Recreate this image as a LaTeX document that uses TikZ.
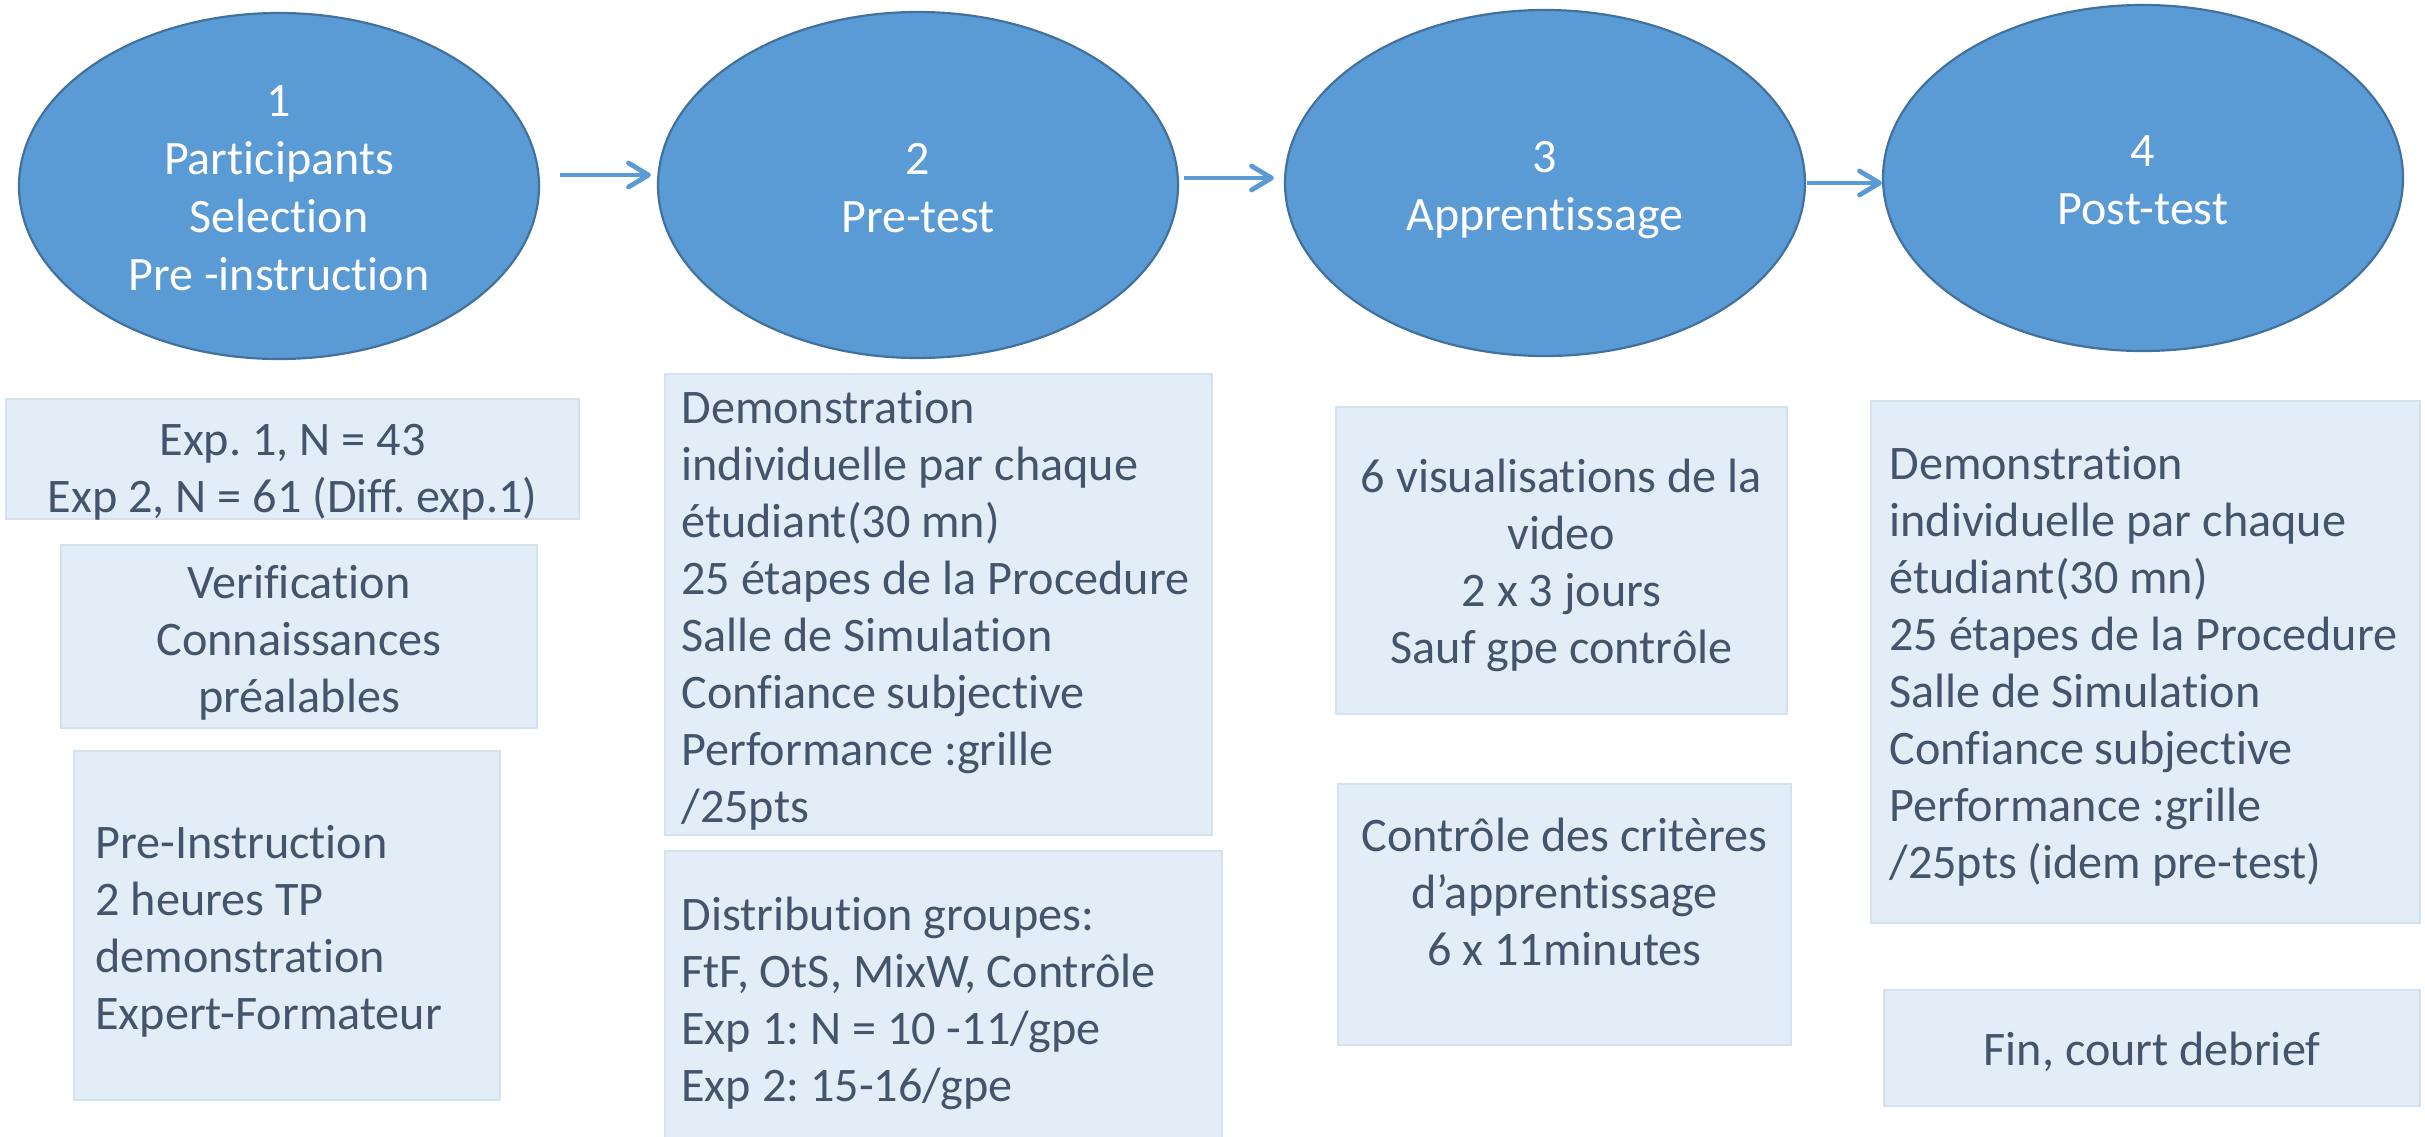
\documentclass[tikz,border=0pt]{standalone}
\usepackage{fontspec}
\setmainfont{Carlito}[Ligatures=CommonOff]
\frenchspacing
\usetikzlibrary{arrows.meta,shapes.geometric,fit,calc}
\definecolor{ellfill}{HTML}{5B9BD5}
\definecolor{ellline}{HTML}{41719C}
\definecolor{boxfill}{HTML}{E3EDF7}
\definecolor{boxline}{HTML}{D3E2F0}
\definecolor{txtc}{HTML}{44546A}
\begin{document}
\frenchspacing
\begin{tikzpicture}[x=0.5pt,y=-0.5pt,
  ell/.style={ellipse, fill=ellfill, draw=ellline, line width=1.1pt,
    minimum width=260pt, minimum height=173pt, inner sep=0pt},
  etxt/.style={text=white, font=\fontsize{24pt}{29pt}\selectfont, align=center, inner sep=0pt},
  box/.style={fill=boxfill, draw=boxline, line width=1pt, inner sep=0pt},
  btxt/.style={text=txtc, font=\fontsize{24.1pt}{28.5pt}\selectfont, inner sep=0pt},
  arr/.style={draw=ellfill, line width=2.4pt,
    -{Straight Barb[length=10pt,width=12pt,round]}}]
\useasboundingbox (0,0) rectangle (2425,1136);

% ellipses
\node[ell] (e1) at (279,186) {};
\node[ell] (e2) at (918,185) {};
\node[ell] (e3) at (1545,183) {};
\node[ell] (e4) at (2143,178) {};
\node[etxt] (t1) at ($(e1.center)+(0,6)$) {\strut 1\\Participants\\Selection\\Pre -instruction\strut};
\node[etxt] (t2) at ($(e2.center)+(0,7)$) {\strut 2\\Pre-test\strut};
\node[etxt] (t3) at ($(e3.center)+(0,7)$) {\strut 3\\Apprentissage\strut};
\node[etxt] (t4) at ($(e4.center)+(0,6)$) {\strut 4\\Post-test\strut};

% arrows
\draw[arr] ($(e1.east)+(20,-11)$) -- ($(e2.west)+(-6,-10)$);
\draw[arr] ($(e2.east)+(5,-7)$) -- ($(e3.west)+(-10,-5)$);
\draw[arr] ($(e3.east)+(1,0)$) -- ($(e4.west)+(0,5)$);

% boxes
\node[box, fit={(6,399) (579,519)}] (A) {};
\node[box, fit={(61,545) (537,728)}] (B) {};
\node[box, fit={(74,751) (500,1100)}] (C) {};
\node[box, fit={(665,374) (1212,835)}] (D) {};
\node[box, fit={(665,851) (1222,1145)}] (E) {};
\node[box, fit={(1336,407) (1787,714)}] (F) {};
\node[box, fit={(1338,784) (1791,1045)}] (G) {};
\node[box, fit={(1871,401) (2420,923)}] (H) {};
\node[box, fit={(1884,990) (2420,1106)}] (I) {};

% texts
\node[btxt, align=center] (At) at ($(A.center)+(0,14)$) {\strut Exp. 1, N = 43\\Exp 2, N = 61 (Diff. exp.1)\strut};
\node[btxt, align=center] (Bt) at ($(B.center)+(0,8)$) {\strut Verification\\Connaissances\\préalables\strut};
\node[btxt, align=left, anchor=west] (Ct) at ($(C.west)+(22,7)$) {\strut Pre-Instruction\\2 heures TP\\demonstration\\Expert-Formateur\strut};
\node[btxt, align=left, anchor=west] (Dt) at ($(D.west)+(17,7)$) {\strut Demonstration\\individuelle par chaque\\étudiant(30 mn)\\25 étapes de la Procedure\\Salle de Simulation\\Confiance subjective\\Performance :grille\\/25pts\strut};
\node[btxt, align=left, anchor=west] (Et) at ($(E.west)+(17,7)$) {\strut Distribution groupes:\\FtF, OtS, MixW, Contrôle\\Exp 1: N = 10 -11/gpe\\Exp 2: 15-16/gpe\strut};
\node[btxt, align=center] (Ft) at ($(F.center)+(0,6)$) {\strut 6 visualisations de la\\video\\2 x 3 jours\\Sauf gpe contrôle\strut};
\node[btxt, align=center] (Gt) at ($(G.center)+(0,-17)$) {\strut Contrôle des critères\\d’apprentissage\\6 x 11minutes\strut};
\node[btxt, align=left, anchor=west] (Ht) at ($(H.west)+(19,6)$) {\strut Demonstration\\individuelle par chaque\\étudiant(30 mn)\\25 étapes de la Procedure\\Salle de Simulation\\Confiance subjective\\Performance :grille\\/25pts (idem pre-test)\strut};
\node[btxt, align=center] (It) at ($(I.center)+(0,6)$) {\strut Fin, court debrief\strut};
\end{tikzpicture}
\end{document}
